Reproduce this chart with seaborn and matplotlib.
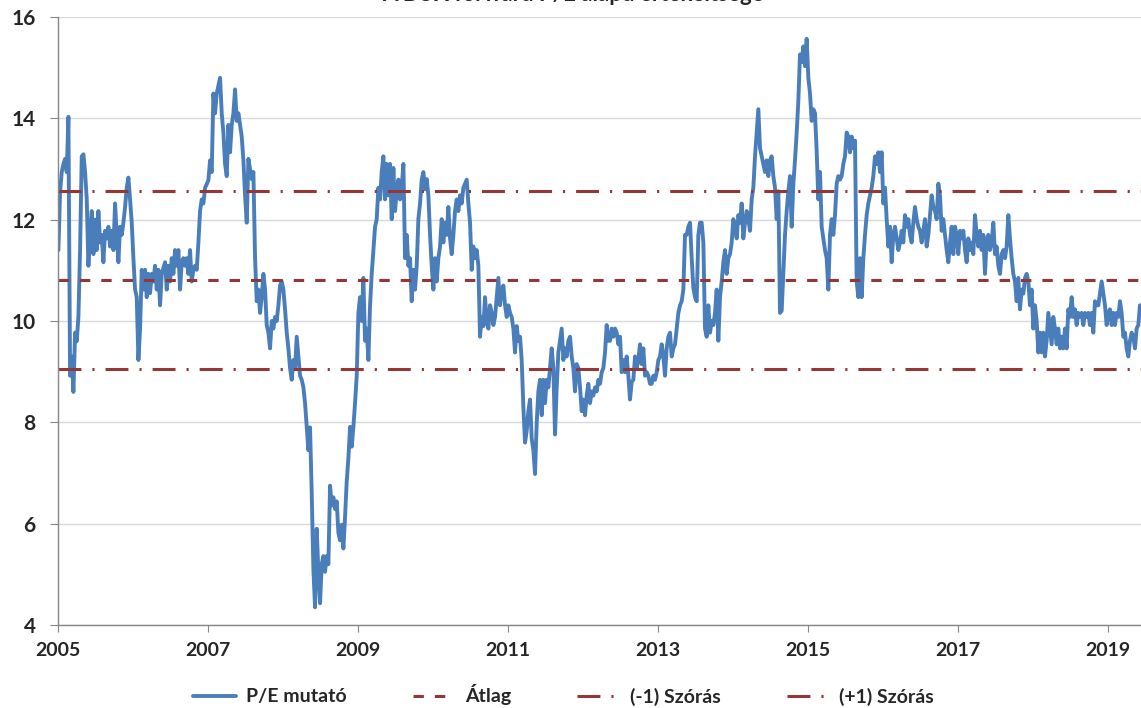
import pandas as pd
import matplotlib
matplotlib.use('Agg')
import matplotlib.pyplot as plt
import seaborn as sns

# BUX forward P/E (about one point every 8 days)
pe_2005_2007 = [11.40, 12.55, 12.94, 13.10, 13.20, 12.94, 14.03, 8.92, 9.30, 8.60,
                9.77, 9.60, 10.08, 11.40, 13.25, 13.29, 12.94, 12.40, 11.09, 11.70,
                12.17, 11.32, 12.00, 11.40, 12.17, 11.55, 11.70, 11.16, 11.78, 11.63,
                11.86, 11.47, 11.78, 11.40, 12.32, 11.70, 11.16, 11.86, 11.70, 11.94,
                12.25, 12.63, 12.83, 12.40, 11.94, 11.24, 10.62, 10.47, 9.23, 9.85,
                11.01, 10.62, 11.01, 10.47, 10.93, 10.55, 10.93, 10.78, 11.09, 10.62,
                11.01, 10.31, 10.93, 11.05, 11.16, 10.62, 11.09, 10.78, 11.24, 10.93,
                11.40, 11.09, 11.40, 10.62, 11.16, 11.24, 11.09, 11.24, 10.93, 11.40,
                10.78, 11.01, 11.09, 11.01, 11.55, 12.17, 12.40, 12.32, 12.63, 12.70,
                12.78, 13.17, 12.94, 14.49, 14.10, 14.49, 14.65, 14.80, 14.10, 13.72,
                13.10, 12.86, 13.87, 13.33, 13.87, 14.10, 14.57, 13.95, 14.10]
pe_2007_2009 = [13.87, 13.64, 13.17, 12.48, 11.94, 13.20, 13.00, 12.80, 12.94, 11.24,
                10.39, 10.62, 10.16, 10.47, 10.93, 10.62, 9.92, 9.77, 9.46, 10.00,
                9.85, 10.08, 10.00, 10.31, 10.70, 10.78, 10.62, 10.23, 9.77, 9.46,
                9.07, 8.84, 9.23, 9.07, 9.69, 9.30, 8.92, 8.84, 8.69, 8.38,
                7.91, 7.45, 7.90, 6.60, 5.10, 4.35, 5.90, 5.05, 4.43, 5.20,
                5.36, 5.05, 5.36, 5.20, 6.75, 6.36, 6.52, 6.29, 6.44, 5.82,
                5.67, 5.98, 5.51, 6.13, 6.83, 7.29, 7.91, 7.52, 7.91, 8.38,
                8.92, 10.16, 10.47, 10.00, 10.85, 9.61, 9.85, 9.23, 10.31, 10.93,
                11.40, 11.86, 12.01, 12.63, 12.40, 12.94, 13.25, 12.40, 13.10, 12.48,
                13.10, 12.01, 13.02, 12.17, 12.56, 12.79, 12.40, 12.63, 13.10, 11.24,
                11.70, 11.09, 11.24, 10.39, 11.01, 10.62, 11.09, 12.01, 12.32, 12.79,
                12.94]
pe_2009_2012 = [12.60, 12.80, 12.48, 11.70, 11.09, 10.62, 11.24, 10.78, 11.24, 11.47,
                12.01, 11.55, 11.94, 11.70, 12.25, 11.63, 11.32, 11.70, 12.17, 12.40,
                12.17, 12.48, 12.32, 12.63, 12.71, 12.79, 12.32, 11.94, 11.01, 11.47,
                11.24, 11.40, 11.09, 9.69, 10.08, 9.90, 10.47, 10.00, 9.85, 10.31,
                10.16, 9.92, 10.08, 10.47, 10.85, 10.31, 10.62, 10.70, 10.31, 10.08,
                10.31, 10.16, 10.08, 9.85, 9.38, 9.90, 9.61, 9.69, 9.23, 8.30,
                7.60, 7.83, 8.22, 8.45, 7.68, 7.45, 6.98, 7.99, 8.61, 8.84,
                8.14, 8.84, 8.38, 8.84, 8.69, 9.07, 9.46, 9.07, 7.76, 8.69,
                9.38, 9.61, 9.85, 9.23, 9.46, 9.30, 9.61, 9.69, 9.30, 9.07,
                8.61, 9.15, 9.07, 8.69, 8.22, 8.45, 8.14, 8.53, 8.76, 8.38,
                8.61, 8.53, 8.69, 8.61, 8.84, 8.76, 8.99, 9.07, 9.38, 9.92,
                9.61]
pe_2012_2014 = [9.61, 9.85, 9.69, 9.85, 9.77, 9.54, 9.69, 8.99, 9.23, 8.99,
                9.30, 8.92, 8.45, 8.80, 8.84, 9.30, 9.07, 9.23, 9.54, 9.15,
                9.46, 8.92, 8.99, 8.92, 8.76, 8.76, 8.92, 8.84, 8.99, 9.23,
                9.30, 9.54, 9.30, 8.92, 9.46, 9.69, 9.77, 9.30, 9.46, 9.54,
                9.85, 10.16, 10.31, 10.39, 10.62, 11.70, 11.70, 11.86, 11.94, 11.24,
                10.65, 10.47, 10.39, 11.70, 11.94, 11.94, 11.55, 9.85, 9.69, 10.31,
                9.77, 10.00, 9.92, 10.16, 10.62, 9.61, 10.47, 10.78, 11.16, 11.40,
                10.93, 11.24, 11.32, 11.55, 12.01, 11.86, 11.63, 12.09, 11.94, 12.32,
                11.63, 11.94, 12.17, 12.01, 11.78, 12.40, 12.63, 13.25, 13.72, 14.18,
                13.41, 13.25, 13.10, 12.94, 13.17, 12.86, 13.17, 13.25, 12.86, 12.63,
                12.01, 12.56, 10.16, 10.20, 10.93, 11.70, 12.17, 12.56, 12.86, 11.86,
                12.71]
pe_2014_2017 = [13.17, 13.72, 14.34, 15.26, 15.11, 15.42, 15.03, 15.57, 14.80, 14.49,
                13.95, 14.18, 14.10, 13.35, 12.40, 12.94, 11.86, 11.63, 11.40, 11.24,
                10.62, 11.70, 12.01, 11.70, 12.09, 12.71, 12.86, 12.79, 12.86, 13.10,
                13.25, 13.72, 13.64, 13.33, 13.64, 13.41, 13.56, 10.78, 10.47, 11.24,
                10.47, 11.24, 11.70, 12.09, 12.32, 12.48, 12.63, 12.86, 13.25, 13.10,
                13.33, 12.94, 13.33, 12.32, 12.63, 12.01, 11.47, 11.86, 11.16, 11.70,
                11.86, 11.63, 11.40, 11.55, 11.78, 11.55, 12.09, 11.86, 12.01, 11.70,
                11.55, 11.94, 12.25, 12.01, 11.86, 11.78, 11.55, 11.78, 12.01, 11.47,
                11.70, 12.09, 12.48, 12.25, 12.17, 12.01, 12.71, 12.48, 11.78, 12.01,
                11.70, 11.40, 11.16, 11.55, 11.86, 11.32, 11.86, 11.70, 11.32, 11.78,
                11.63, 11.78, 11.40, 11.16, 11.63, 11.40, 11.55, 11.32, 12.09, 11.70,
                11.47]
pe_2017_2019 = [11.78, 11.40, 11.70, 10.93, 11.60, 11.70, 11.40, 11.55, 11.94, 11.32,
                11.47, 11.09, 10.93, 11.32, 11.40, 11.24, 11.47, 12.09, 11.63, 11.24,
                10.93, 10.78, 10.39, 10.85, 10.23, 10.62, 10.54, 10.85, 10.93, 10.78,
                10.31, 10.62, 9.85, 10.31, 10.00, 9.38, 9.77, 9.38, 9.77, 9.30,
                9.61, 10.16, 9.85, 9.54, 10.08, 9.85, 9.54, 9.85, 9.46, 9.69,
                9.46, 9.85, 9.46, 10.23, 10.08, 10.47, 10.08, 10.23, 9.92, 10.16,
                10.08, 10.16, 9.92, 10.16, 10.08, 10.16, 9.92, 10.16, 9.77, 10.39,
                10.31, 10.31, 10.54, 10.78, 10.54, 10.31, 9.92, 10.16, 10.23, 9.92,
                10.16, 9.92, 10.16, 10.08, 10.39, 10.16, 9.69, 9.77, 9.46, 9.30,
                9.61, 9.77, 9.69, 9.46, 9.85, 9.92, 10.31]

atlag = 10.81
szoras = 1.76

years = ['2005', '2007', '2009', '2011', '2013', '2015', '2017', '2019']
y_ticks = [4, 6, 8, 10, 12, 14, 16]

pe = pe_2005_2007 + pe_2007_2009 + pe_2009_2012 + pe_2012_2014 + pe_2014_2017 + pe_2017_2019
dates = pd.date_range('2005-01-03', '2019-06-05', periods=len(pe))
df = pd.DataFrame({'datum': dates, 'pe': pe})

sns.set_style('white')
plt.rcParams['font.family'] = ['Lato', 'DejaVu Sans']
plt.rcParams['font.weight'] = 'bold'

fig, ax = plt.subplots(figsize=(11.41, 7.08), dpi=100)
fig.subplots_adjust(left=58 / 1141, right=1.0, top=1 - 17 / 708, bottom=1 - 625 / 708)

red = '#953735'
sns.lineplot(data=df, x='datum', y='pe', ax=ax, color='#4a7ebb', lw=2.8, label='P/E mutató')
ax.axhline(atlag, color=red, lw=2.2, ls=(0, (3.4, 3.6)), label='Átlag')
ax.axhline(atlag - szoras, color=red, lw=2.2, ls=(0, (7.5, 3.6, 0.7, 3.6)), label='(-1) Szórás')
ax.axhline(atlag + szoras, color=red, lw=2.2, ls=(0, (7.5, 3.6, 0.7, 3.6)), label='(+1) Szórás')

ax.set_ylim(4, 16)
ax.set_yticks(y_ticks)
ax.set_xlim(pd.Timestamp('2005-01-01'), pd.Timestamp('2019-06-10'))
ax.set_xticks(pd.to_datetime([y + '-01-01' for y in years]))
ax.set_xticklabels(years)
ax.set_xlabel('')
ax.set_ylabel('')

ax.grid(axis='y', color='#d9d9d9', lw=1)
ax.set_axisbelow(True)
sns.despine(ax=ax)
for s in ['left', 'bottom']:
    ax.spines[s].set_color('#868686')
    ax.spines[s].set_linewidth(1)
ax.tick_params(axis='y', direction='out', length=6, color='#868686', labelsize=15, pad=10, left=True)
ax.tick_params(axis='x', direction='out', length=5, color='#868686', labelsize=14, pad=7, bottom=True)

handles, labels = ax.get_legend_handles_labels()
ax.get_legend().remove()
fig.legend(handles, labels, loc='center', bbox_to_anchor=(0.494, 1 - 695 / 708), ncol=4,
           frameon=False, fontsize=14, handlelength=2.2, handletextpad=0.5, columnspacing=3.4)

fig.text(0.502, 1 - 1 / 708, 'A BUX forward P/E alapú értékeltsége', ha='center',
         va='baseline', fontsize=16, fontweight='bold')

plt.savefig('out.png', dpi=100)
